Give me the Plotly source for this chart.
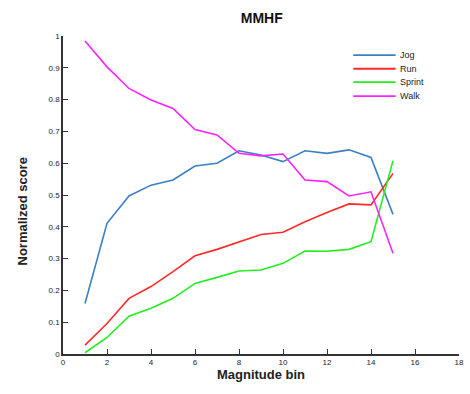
import plotly.graph_objects as go

bins = list(range(1, 16))
jog = [0.159, 0.411, 0.497, 0.531, 0.547, 0.591, 0.600, 0.639, 0.626, 0.605, 0.639, 0.631, 0.642, 0.618, 0.439]
run = [0.028, 0.096, 0.175, 0.212, 0.259, 0.309, 0.329, 0.353, 0.376, 0.383, 0.416, 0.445, 0.472, 0.469, 0.568]
sprint = [0.004, 0.052, 0.119, 0.144, 0.175, 0.222, 0.241, 0.261, 0.264, 0.285, 0.324, 0.323, 0.329, 0.353, 0.608]
walk = [0.984, 0.903, 0.835, 0.799, 0.772, 0.706, 0.689, 0.631, 0.623, 0.629, 0.547, 0.542, 0.497, 0.510, 0.317]

names = ["Jog", "Run", "Sprint", "Walk"]
colors = ["#3b7fc4", "#ff2a2a", "#22ee22", "#ff22ff"]
values = [jog, run, sprint, walk]

fig = go.Figure()
for name, vals, col in zip(names, values, colors):
    fig.add_trace(go.Scatter(x=bins, y=vals, mode="lines", name=name,
                             line=dict(color=col, width=1.6), showlegend=False))

# compact legend (drawn in paper coordinates)
leg_y = [0.940, 0.897, 0.855, 0.811]
for name, col, ly in zip(names, colors, leg_y):
    fig.add_shape(type="line", xref="paper", yref="paper", x0=0.733, x1=0.840, y0=ly, y1=ly,
                  line=dict(color=col, width=1.8))
    fig.add_annotation(xref="paper", yref="paper", x=0.846, y=ly, text=name, showarrow=False,
                       xanchor="left", yanchor="middle",
                       font=dict(family="Liberation Sans", size=9, color="#222"))

axis_common = dict(showline=True, linecolor="#333", linewidth=1.6, ticks="inside",
                   ticklen=5, tickwidth=1.4, tickcolor="#333", showgrid=False, zeroline=False,
                   tickfont=dict(family="Liberation Sans", size=8, color="#223"))

fig.add_annotation(xref="paper", yref="paper", x=-0.102, y=0.447, text="<b>Normalized score</b>",
                   textangle=-90, showarrow=False, xanchor="center", yanchor="middle",
                   font=dict(family="Liberation Sans", size=13, color="#222"))

fig.update_layout(
    width=470, height=394,
    margin=dict(l=63, r=6, t=36, b=40),
    paper_bgcolor="white", plot_bgcolor="white",
    title=dict(text="<b>MMHF</b>", x=0.557, xanchor="center", y=0.955, yanchor="middle",
               font=dict(family="Liberation Sans", size=14, color="#111")),
    xaxis=dict(range=[0, 18], tickvals=list(range(0, 19, 2)),
               title=dict(text="<b>Magnitude bin</b>", font=dict(family="Liberation Sans", size=13, color="#222"), standoff=3),
               **axis_common),
    yaxis=dict(range=[0, 1], tickvals=[i / 10 for i in range(11)],
               ticktext=["0", "0.1", "0.2", "0.3", "0.4", "0.5", "0.6", "0.7", "0.8", "0.9", "1"],
               **axis_common),
    showlegend=False,
)

fig.write_html("out.html")
